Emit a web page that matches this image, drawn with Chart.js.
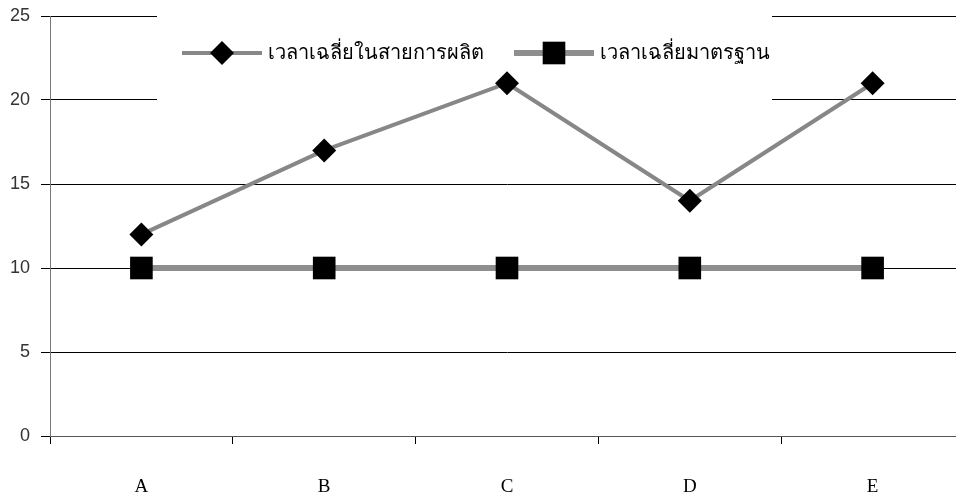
<!DOCTYPE html>
<html>
<head>
<meta charset="utf-8">
<script src="https://cdn.jsdelivr.net/npm/chart.js@4.4.0/dist/chart.umd.min.js"></script>
<style>
  body { margin: 0; background: #fff; overflow: hidden; }
  .wrap { width: 965px; height: 501px; }
</style>
</head>
<body>
<div class="wrap"><canvas id="myChart" width="965" height="501"></canvas></div>
<script>
var categories = ['A', 'B', 'C', 'D', 'E'];
var lineTime = [12, 17, 21, 14, 21];
var stdTime = [10, 10, 10, 10, 10];
var seriesNames = ['เวลาเฉลี่ยในสายการผลิต', 'เวลาเฉลี่ยมาตรฐาน'];
var yTicks = [0, 5, 10, 15, 20, 25];

// legend sits over the grid, under the lines (like the excel one)
var legendBox = {
    id: 'legendBox',
    beforeDatasetsDraw: function(chart) {
        var ctx = chart.ctx;
        ctx.save();
        ctx.fillStyle = '#fff';
        ctx.fillRect(157, 0, 615, 106);
        ctx.restore();
    },
    afterDraw: function(chart) {
        var ctx = chart.ctx, y = 53;
        var ds = chart.data.datasets;
        var items = [
            {x: 182, w: 80, tx: 268, d: ds[0]},
            {x: 514, w: 80, tx: 600, d: ds[1]}
        ];
        ctx.save();
        items.forEach(function(it) {
            ctx.strokeStyle = it.d.borderColor;
            ctx.lineWidth = it.d.borderWidth;
            ctx.beginPath();
            ctx.moveTo(it.x, y);
            ctx.lineTo(it.x + it.w, y);
            ctx.stroke();
            ctx.fillStyle = '#000';
            Chart.helpers.drawPoint(ctx, {pointStyle: it.d.pointStyle, radius: it.d.pointRadius, borderWidth: 0}, it.x + it.w / 2, y);
            ctx.font = '20px "Noto Sans", sans-serif';
            ctx.textBaseline = 'middle';
            ctx.fillText(it.d.label, it.tx, y);
        });
        ctx.restore();
    }
};

var ctx = document.getElementById('myChart').getContext('2d');
var chart = new Chart(ctx, {
    type: 'line',
    data: {
        labels: categories,
        datasets: [{
            label: seriesNames[0],
            data: lineTime,
            borderColor: '#878787',
            borderWidth: 4,
            pointStyle: 'rectRot',
            pointRadius: 12,
            pointHoverRadius: 12,
            pointBackgroundColor: '#000',
            pointBorderWidth: 0,
            tension: 0
        }, {
            label: seriesNames[1],
            data: stdTime,
            borderColor: '#8e8e8e',
            borderWidth: 6,
            pointStyle: 'rect',
            pointRadius: 16,
            pointHoverRadius: 16,
            pointBackgroundColor: '#000',
            pointBorderWidth: 0,
            tension: 0
        }]
    },
    options: {
        responsive: false,
        animation: false,
        layout: {autoPadding: false, padding: {top: 16, right: 1, left: 0, bottom: 0}},
        plugins: {legend: {display: false}, tooltip: {enabled: false}},
        scales: {
            x: {
                offset: true,
                grid: {offset: true, drawOnChartArea: false, tickLength: 8, color: '#000'},
                border: {color: '#555'},
                ticks: {color: '#000', padding: 32, font: {family: '"Liberation Serif", serif', size: 19}},
                afterFit: function(s) { s.height = 65; }
            },
            y: {
                min: 0, max: 25,
                afterBuildTicks: function(s) { s.ticks = yTicks.map(function(v) { return {value: v}; }); },
                grid: {color: '#000', tickLength: 9},
                border: {color: '#777'},
                ticks: {color: '#333', padding: 11, font: {family: '"Liberation Sans", sans-serif', size: 18}},
                afterFit: function(s) { s.width = 50; s.paddingTop = 0; s.paddingBottom = 0; }
            }
        }
    },
    plugins: [legendBox]
});
</script>
</body>
</html>
